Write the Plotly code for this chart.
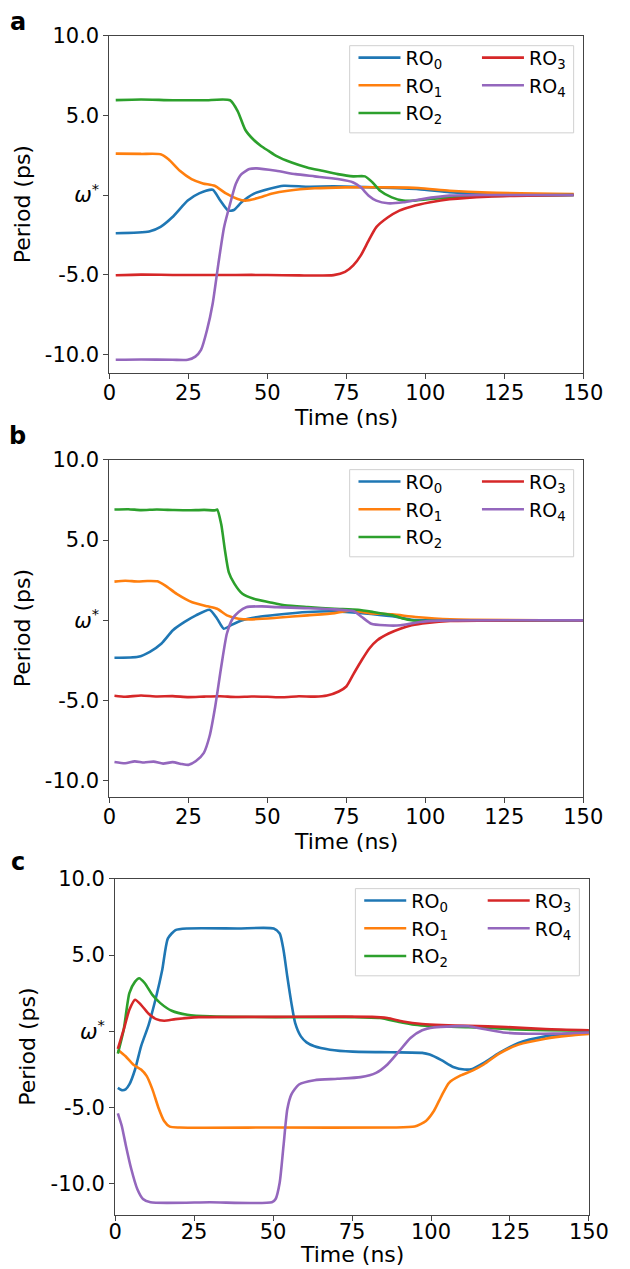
import plotly.graph_objects as go

W, H = 630, 1269

# ---------------- DATA ----------------
series_names = ["RO<sub>0</sub>", "RO<sub>1</sub>", "RO<sub>2</sub>", "RO<sub>3</sub>", "RO<sub>4</sub>"]
colors = ["#1f77b4", "#ff7f0e", "#2ca02c", "#d62728", "#9467bd"]
x_ticks = [0, 25, 50, 75, 100, 125, 150]
y_ticks = [10, 5, 0, -5, -10]
y_tick_labels = ["10.0", "5.0", "<i>ω</i><sup>*</sup>", "-5.0", "-10.0"]

# Panel a
t_a0 = [2, 12.6, 16.2, 19.9, 24.8, 28.4, 32.7, 35.1, 37.6, 39.4, 41.8, 45.5, 50.4, 55.2, 62.6, 71, 83.3, 97.9, 107.7, 119.9, 147]
v_a0 = [-2.4, -2.29, -2.0, -1.4, -0.35, 0.1, 0.33, -0.35, -0.98, -0.94, -0.46, 0.06, 0.37, 0.58, 0.52, 0.54, 0.48, 0.37, 0.17, 0.06, 0.0]
t_a1 = [2, 10, 16.2, 18.7, 22.3, 26, 29.6, 33.3, 36.9, 40.6, 43, 46.7, 51.6, 56.5, 65, 74.8, 89.4, 97.9, 107.7, 119.9, 147]
v_a1 = [2.6, 2.58, 2.56, 2.25, 1.52, 1.0, 0.73, 0.58, 0.1, -0.25, -0.35, -0.21, 0.1, 0.27, 0.42, 0.48, 0.48, 0.44, 0.27, 0.15, 0.06]
t_a2 = [2, 10, 20, 30, 38.2, 40.6, 43, 45.5, 48, 50.4, 52.8, 57.7, 62.6, 67.4, 72.3, 77.2, 80.9, 83.3, 85.7, 89.4, 93, 96.7, 101.6, 113.8, 126, 147]
v_a2 = [5.96, 6.0, 5.95, 5.95, 5.95, 5.27, 4.1, 3.5, 3.08, 2.77, 2.46, 2.04, 1.73, 1.52, 1.31, 1.17, 1.17, 0.79, 0.27, -0.15, -0.35, -0.35, -0.25, -0.1, -0.04, 0.0]
t_a3 = [2, 10, 20, 30, 40, 50, 60, 71, 74.6, 77.2, 79.6, 82.1, 84.5, 88.2, 91.8, 95.5, 101.6, 107.7, 119.9, 147]
v_a3 = [-5.04, -5.0, -5.02, -5.02, -5.02, -5.02, -5.05, -5.03, -4.83, -4.42, -3.79, -2.85, -2.02, -1.4, -0.98, -0.73, -0.46, -0.27, -0.1, 0.0]
t_a4 = [2, 10, 20, 24.8, 27.2, 29, 30.9, 32.7, 34.5, 36.3, 38.2, 40, 41.8, 44.3, 46.7, 52.8, 58.9, 65, 72.3, 77.2, 79.6, 82.1, 84.5, 88.2, 93, 99.1, 107.7, 119.9, 147]
v_a4 = [-10.35, -10.33, -10.35, -10.35, -10.15, -9.73, -8.48, -6.81, -4.31, -2.02, -0.56, 0.69, 1.31, 1.63, 1.67, 1.52, 1.31, 1.17, 1.0, 0.79, 0.48, -0.04, -0.35, -0.52, -0.46, -0.25, -0.04, 0.0, 0.0]

# Panel b
t_b0 = [1.6, 9.1, 12.8, 16.5, 20.1, 23.8, 27.4, 31.7, 34.1, 36.2, 38.4, 42.1, 47, 53, 62.8, 71.3, 79.9, 89.6, 95.7, 101.8, 150]
v_b0 = [-2.33, -2.27, -1.96, -1.44, -0.62, -0.1, 0.31, 0.66, 0.1, -0.52, -0.31, 0.0, 0.21, 0.35, 0.52, 0.56, 0.45, 0.25, 0.04, 0.0, 0.0]
t_b1 = [1.6, 5, 9, 12, 15.2, 17.7, 21.3, 26.2, 31.1, 34.1, 37.2, 40.9, 44.5, 53, 62.8, 71.3, 76.2, 82.3, 89.6, 96.9, 107.9, 150]
v_b1 = [2.41, 2.46, 2.42, 2.45, 2.43, 2.16, 1.65, 1.13, 0.87, 0.72, 0.31, 0.1, 0.06, 0.16, 0.31, 0.45, 0.62, 0.45, 0.37, 0.21, 0.06, 0.0]
t_b2 = [1.6, 6, 10, 15, 20, 25, 30, 33.5, 34.1, 35.4, 36.6, 37.8, 39.6, 42.1, 45.7, 50.6, 55.5, 62.8, 71.3, 78.7, 83.5, 89.6, 94.5, 98.2, 107.9, 150]
v_b2 = [6.9, 6.92, 6.86, 6.9, 6.87, 6.85, 6.88, 6.85, 6.9, 5.98, 4.33, 2.99, 2.27, 1.65, 1.34, 1.13, 0.93, 0.82, 0.72, 0.66, 0.52, 0.31, 0.04, -0.04, 0.0, 0.0]
t_b3 = [1.6, 5, 10, 15, 20, 25, 30, 35, 40, 45, 50, 55, 60, 65, 68.9, 72.6, 75, 77.4, 79.9, 82.3, 84.8, 88.4, 92.1, 95.7, 100.6, 107.9, 150]
v_b3 = [-4.7, -4.76, -4.68, -4.74, -4.72, -4.78, -4.75, -4.73, -4.77, -4.74, -4.76, -4.79, -4.73, -4.75, -4.68, -4.43, -4.12, -3.3, -2.47, -1.75, -1.24, -0.82, -0.52, -0.31, -0.16, -0.04, 0.0]
t_b4 = [1.6, 5, 8, 11, 14, 17, 20, 23, 25, 27.4, 29.9, 31.7, 33.5, 35.4, 37.2, 39, 40.9, 43.3, 48.2, 53, 61.6, 71.3, 77.4, 79.9, 82.9, 87.2, 92.1, 98.2, 104.3, 150]
v_b4 = [-8.82, -8.9, -8.78, -8.85, -8.8, -8.92, -8.83, -8.95, -9.0, -8.76, -8.25, -7.22, -5.36, -2.89, -0.82, 0.1, 0.52, 0.82, 0.87, 0.82, 0.76, 0.68, 0.56, 0.21, -0.21, -0.31, -0.31, -0.1, -0.02, 0.0]

# Panel c
t_c0 = [0.85, 2.1, 3.3, 4.5, 6.3, 8.2, 10.6, 13, 14.9, 16.7, 19.1, 22.8, 38.7, 50.2, 52.1, 53.3, 54.5, 55.8, 57, 58.8, 60.6, 63.1, 68, 75.2, 87.4, 97.2, 99.6, 103.3, 107, 110.6, 113.1, 116.7, 121.6, 127.7, 136.2, 143.5, 150]
v_c0 = [-3.7, -3.85, -3.8, -3.48, -2.5, -0.98, 0.43, 2.28, 4.02, 6.09, 6.63, 6.74, 6.74, 6.74, 6.41, 5.33, 3.59, 1.85, 0.54, -0.33, -0.72, -0.98, -1.2, -1.33, -1.37, -1.41, -1.52, -1.89, -2.33, -2.5, -2.46, -2.07, -1.41, -0.76, -0.33, -0.15, -0.07]
t_c1 = [0.85, 3.3, 5.7, 8.2, 10, 11.8, 13.7, 15.5, 17.3, 20.4, 50, 87.4, 94.8, 98.4, 100.9, 103.3, 105.7, 109.4, 113.1, 116.7, 121.6, 127.7, 136.2, 143.5, 150]
v_c1 = [-1.2, -1.63, -2.17, -2.5, -2.93, -3.8, -5.0, -5.87, -6.24, -6.3, -6.3, -6.3, -6.24, -5.87, -5.22, -4.24, -3.37, -2.89, -2.57, -2.17, -1.46, -0.87, -0.48, -0.28, -0.17]
t_c2 = [0.85, 2.7, 4.5, 6.3, 7.6, 9.4, 11.8, 14.3, 17.9, 22.8, 30.1, 50.8, 75.2, 83.8, 89.9, 94.8, 99.6, 111.8, 124, 136.2, 150]
v_c2 = [-1.46, 0.11, 2.5, 3.26, 3.48, 3.15, 2.39, 1.85, 1.35, 1.09, 0.98, 0.93, 0.93, 0.87, 0.61, 0.43, 0.35, 0.28, 0.15, 0.07, 0.04]
t_c3 = [0.85, 2.7, 4.5, 6.3, 8.2, 10.6, 13, 15.5, 19.1, 26.5, 50.8, 81.3, 86.2, 91.1, 97.2, 103.3, 111.8, 124, 136.2, 150]
v_c3 = [-1.15, 0.11, 1.41, 2.07, 1.74, 1.15, 0.8, 0.7, 0.8, 0.93, 0.95, 0.95, 0.87, 0.65, 0.48, 0.41, 0.37, 0.28, 0.15, 0.07]
t_c4 = [0.85, 2.1, 3.3, 5.1, 7, 8.8, 11.2, 30, 49.6, 50.8, 52.1, 53.3, 54.5, 55.8, 58.2, 63.1, 70.4, 77.7, 82.6, 86.2, 89.9, 93.5, 97.2, 100.9, 107, 111.8, 116.7, 122.8, 128.9, 138.6, 150]
v_c4 = [-5.37, -6.2, -7.39, -9.02, -10.33, -10.98, -11.2, -11.2, -11.2, -10.98, -9.9, -7.5, -5.11, -4.13, -3.48, -3.2, -3.11, -3.0, -2.72, -2.17, -1.3, -0.43, 0.07, 0.26, 0.33, 0.33, 0.15, -0.07, -0.15, -0.15, -0.07]

panels = [
    dict(t=[t_a0, t_a1, t_a2, t_a3, t_a4], v=[v_a0, v_a1, v_a2, v_a3, v_a4], yrange=[-11.15, 10.0], letter="a"),
    dict(t=[t_b0, t_b1, t_b2, t_b3, t_b4], v=[v_b0, v_b1, v_b2, v_b3, v_b4], yrange=[-10.97, 10.0], letter="b"),
    dict(t=[t_c0, t_c1, t_c2, t_c3, t_c4], v=[v_c0, v_c1, v_c2, v_c3, v_c4], yrange=[-12.0, 10.0], letter="c"),
]

# ---------------- LAYOUT (pixel boxes) ----------------
boxes = [(107, 24, 602, 364), (107, 452, 602, 792), (113, 875, 608, 1214)]
letter_pos = [(11, 10), (11, 428), (11, 858)]
# x-title: (y position in px, anchor)
xtitle_pos = [(409, "middle"), (837, "middle"), (1269, "bottom")]
tick_standoff = [-4, -4, -7]

def px(x):
    return x / W

def py(y):
    return 1 - y / H

FONT = "DejaVu Sans"
fig = go.Figure()
layout = dict(
    width=W, height=H, margin=dict(l=0, r=0, t=0, b=0),
    paper_bgcolor="white", plot_bgcolor="white",
    font=dict(family=FONT, color="black"),
    shapes=[], annotations=[],
)

for i, p in enumerate(panels):
    xa = "xaxis" if i == 0 else f"xaxis{i+1}"
    ya = "yaxis" if i == 0 else f"yaxis{i+1}"
    xr = "x" if i == 0 else f"x{i+1}"
    yr = "y" if i == 0 else f"y{i+1}"
    l, t, r, b = boxes[i]
    leg1 = "legend" if i == 0 else f"legend{2*i+1}"
    leg2 = f"legend{2*i+2}"
    for k in range(5):
        fig.add_trace(go.Scatter(
            x=p["t"][k], y=p["v"][k], mode="lines", name=series_names[k],
            line=dict(color=colors[k], width=2.6, shape="spline", smoothing=0.6),
            xaxis=xr, yaxis=yr, legend=leg1 if k < 3 else leg2,
            legendgroup=f"{p['letter']}{k}",
        ))
    axis_common = dict(showline=True, mirror=True, linecolor="#444", linewidth=1,
                       ticks="outside", ticklen=5, tickcolor="#444", tickwidth=1,
                       showgrid=False, zeroline=False,
                       tickfont=dict(family=FONT, size=21, color="black"))
    layout[xa] = dict(axis_common, domain=[px(l), px(r)], range=[0, 150],
                      tickvals=x_ticks, ticktext=[str(v) for v in x_ticks],
                      anchor=yr, ticklabelstandoff=tick_standoff[i])
    layout[ya] = dict(axis_common, domain=[py(b), py(t)], range=p["yrange"],
                      tickvals=y_ticks, ticktext=y_tick_labels, anchor=xr,
                      title=dict(text="Period (ps)", font=dict(family=FONT, size=22), standoff=8))
    # x axis title
    ty, tanchor = xtitle_pos[i]
    layout["annotations"].append(dict(text="Time (ns)", xref="paper", yref="paper",
                                      x=px((l + r) / 2), y=py(ty), xanchor="center", yanchor=tanchor,
                                      showarrow=False, font=dict(family=FONT, size=22, color="black")))
    # legend frame
    lb_l, lb_t, lb_r, lb_b = r - 244, t + 10, r - 10, t + 98
    layout["shapes"].append(dict(type="rect", xref="paper", yref="paper",
                                 x0=px(lb_l), x1=px(lb_r), y0=py(lb_b), y1=py(lb_t),
                                 line=dict(color="#d0d0d0", width=1), fillcolor="rgba(255,255,255,0.85)",
                                 layer="above"))
    leg_common = dict(bgcolor="rgba(0,0,0,0)", borderwidth=0, xanchor="left", yanchor="top",
                      font=dict(family=FONT, size=19, color="black"), tracegroupgap=0,
                      itemwidth=42)
    layout[leg1] = dict(leg_common, x=px(lb_l + 4), y=py(lb_t - 7))
    layout[leg2] = dict(leg_common, x=px(lb_l + 133), y=py(lb_t - 7))
    lx, ly = letter_pos[i]
    layout["annotations"].append(dict(text="<b>" + p["letter"] + "</b>", xref="paper", yref="paper",
                                      x=px(lx), y=py(ly), xanchor="center", yanchor="middle",
                                      showarrow=False, font=dict(family=FONT, size=24, color="black")))

fig.update_layout(**layout)
fig.write_html("out.html")
